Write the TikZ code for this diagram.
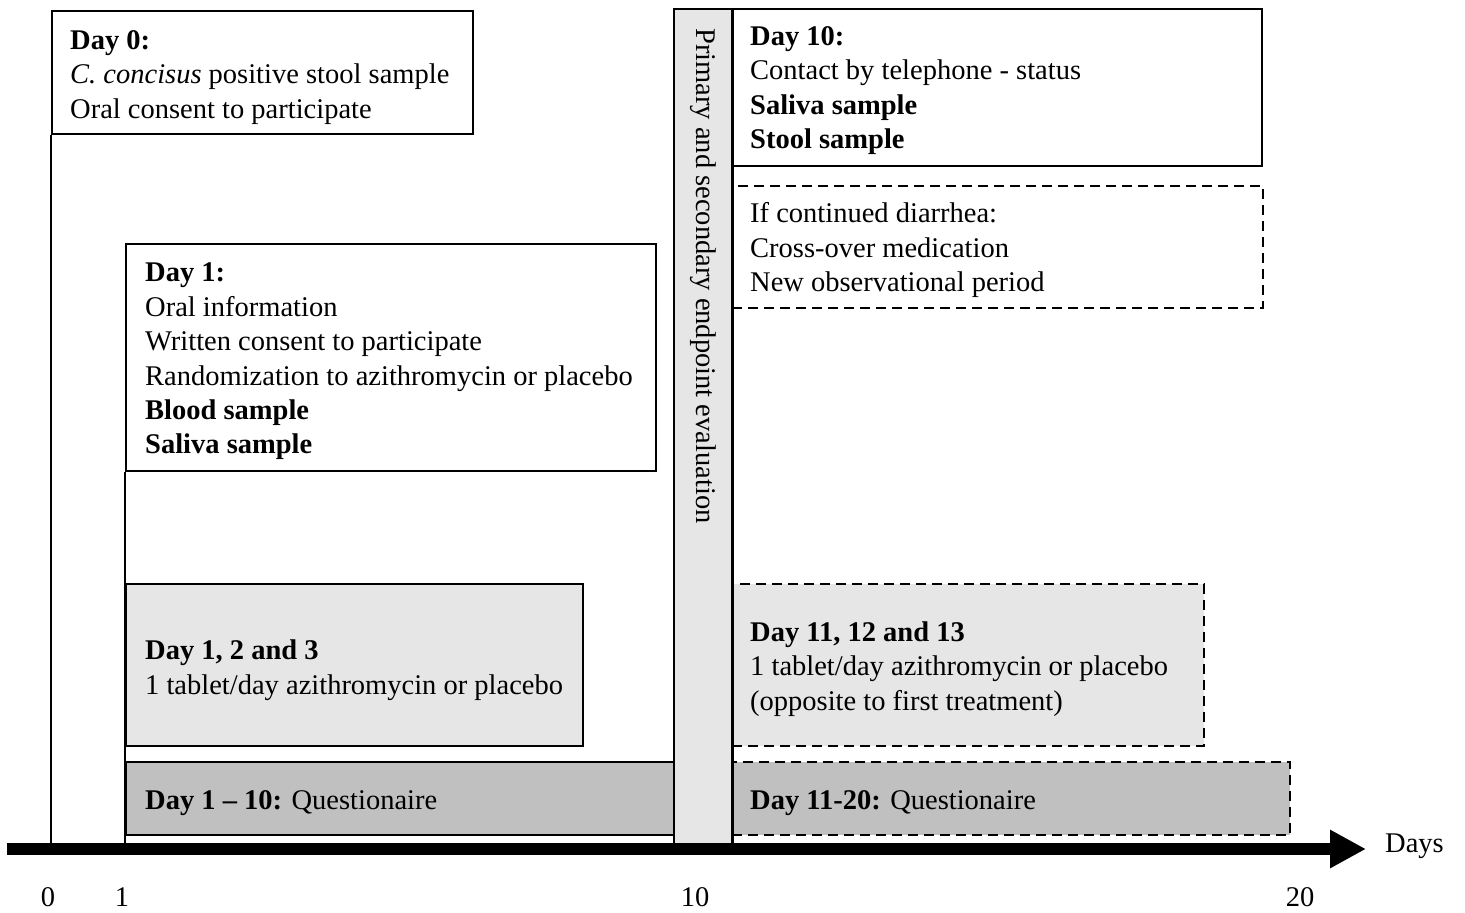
\documentclass[tikz,border=0pt]{standalone}
\usepackage{fontspec}
\setmainfont{Liberation Serif}
\usetikzlibrary{arrows.meta}
\definecolor{lightbox}{HTML}{E6E6E6}
\definecolor{darkbox}{HTML}{C0C0C0}
\tikzset{
  every node/.style={font=\fontsize{28.5}{34.4}\selectfont},
  frame/.style={draw, line width=2pt, anchor=north west, inner sep=0pt},
  dashframe/.style={frame, dash pattern=on 10pt off 6pt},
  txt/.style={anchor=west, align=left, inner sep=0pt},
  lbl/.style={inner sep=0pt},
}
\newcommand{\boxat}[5]{\node[#1, minimum width=#4pt, minimum height=#5pt] (#2) at (#3) {};}
\begin{document}
\begin{tikzpicture}[x=1pt,y=-1pt]
\useasboundingbox (0,0) rectangle (1465,913);
% axis anchor coordinates
\coordinate (axL) at (7,849);
\coordinate (axR) at (1366,849);
\coordinate (ax0) at (51,843);
\coordinate (ax1) at (125,843);
% boxes
\boxat{frame, fill=white}{d0}{51,10}{421}{123}
\boxat{frame, fill=white}{d1}{125,243}{530}{227}
\draw[line width=2pt] (d0.south west) -- (ax0);
\draw[line width=2pt] (d1.south west) -- (ax1);
\boxat{frame, fill=lightbox}{d13}{125,583}{457}{162}
\boxat{frame, fill=darkbox}{q1}{125,761}{548}{73}
\boxat{frame, fill=lightbox}{bar}{673,8}{58}{835}
\boxat{frame, fill=white}{d10}{731,8}{530}{157}
\boxat{dashframe}{dia}{731,185}{531}{122}
\boxat{dashframe, fill=lightbox}{d1113}{731,583}{472}{162}
\boxat{dashframe, fill=darkbox}{q2}{731,761}{558}{73}
\draw[line width=2pt] (bar.north east) -- (bar.south east);
% texts
\node[txt] (t0) at ([xshift=19pt,yshift=-5pt]d0.west) {\textbf{Day 0:}\\\textit{C. concisus} positive stool sample\\Oral consent to participate};
\node[txt] (t1) at ([xshift=20pt,yshift=-4pt]d1.west) {\textbf{Day 1:}\\Oral information\\Written consent to participate\\Randomization to azithromycin or placebo\\\textbf{Blood sample}\\\textbf{Saliva sample}};
\node[txt] (t13) at ([xshift=20pt,yshift=-5pt]d13.west) {\textbf{Day 1, 2 and 3}\\1 tablet/day azithromycin or placebo};
\node[txt] (tq1) at ([xshift=20pt,yshift=-5pt]q1.west) {\textbf{Day 1 -- 10:} Questionaire};
\node[txt] (t10) at ([xshift=19pt,yshift=-3pt]d10.west) {\textbf{Day 10:}\\Contact by telephone - status\\\textbf{Saliva sample}\\\textbf{Stool sample}};
\node[txt] (tdia) at ([xshift=19pt,yshift=-3pt]dia.west) {If continued diarrhea:\\Cross-over medication\\New observational period};
\node[txt] (t1113) at ([xshift=19pt,yshift=-4pt]d1113.west) {\textbf{Day 11, 12 and 13}\\1 tablet/day azithromycin or placebo\\(opposite to first treatment)};
\node[txt] (tq2) at ([xshift=19pt,yshift=-5pt]q2.west) {\textbf{Day 11-20:} Questionaire};
\node[lbl, rotate=-90, anchor=west] (tbar) at ([yshift=-20pt]bar.north) {Primary and secondary endpoint evaluation};
% axis
\draw[line width=12pt, -{Triangle[length=36pt,width=36pt]}] (axL) -- (axR);
\node[lbl, anchor=west] (days) at (1385,846) {Days};
\node[lbl] (n0) at (48,897) {0};
\node[lbl] (n1) at (122,897) {1};
\node[lbl] (n10) at (695,897) {10};
\node[lbl] (n20) at (1300,897) {20};
\end{tikzpicture}
\end{document}
